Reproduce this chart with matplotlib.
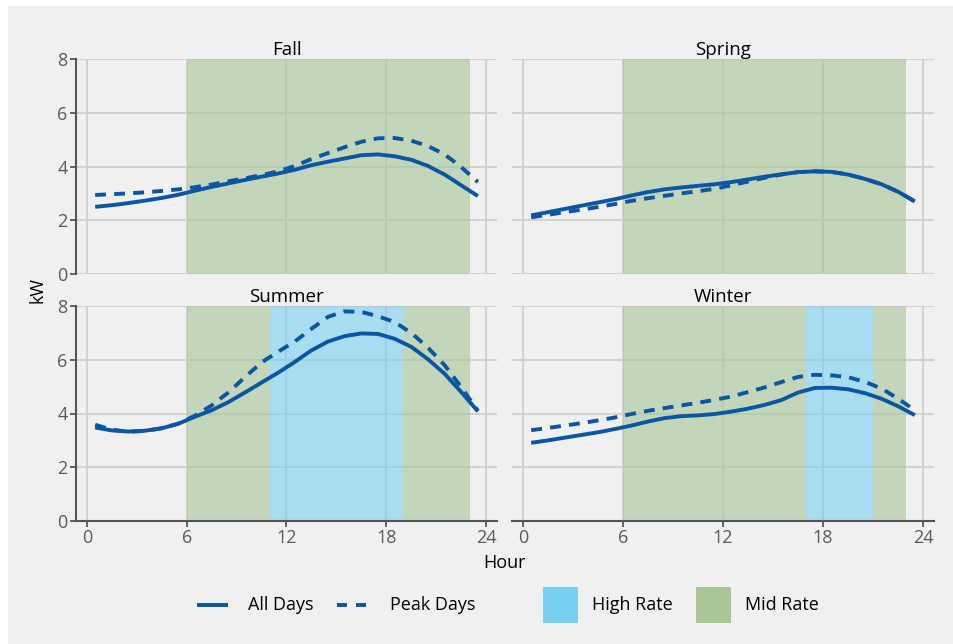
import matplotlib
matplotlib.use("Agg")
import matplotlib.pyplot as plt
from matplotlib.patches import Rectangle
from matplotlib.lines import Line2D

plt.rcParams['font.family'] = ['Open Sans', 'DejaVu Sans']

# ---- data -------------------------------------------------------------
hours = [h + 0.5 for h in range(24)]

fall_all = [2.50, 2.56, 2.64, 2.73, 2.83, 2.95, 3.10, 3.24, 3.37, 3.50, 3.62, 3.74,
            3.88, 4.05, 4.18, 4.30, 4.42, 4.45, 4.38, 4.25, 4.02, 3.70, 3.30, 2.90]
fall_peak = [2.94, 2.97, 3.00, 3.04, 3.09, 3.15, 3.23, 3.33, 3.45, 3.56, 3.68, 3.82,
             4.02, 4.28, 4.50, 4.72, 4.92, 5.05, 5.06, 4.96, 4.76, 4.45, 3.98, 3.42]

spring_all = [2.18, 2.30, 2.42, 2.54, 2.66, 2.78, 2.92, 3.05, 3.15, 3.22, 3.28, 3.34,
              3.42, 3.52, 3.62, 3.71, 3.79, 3.82, 3.80, 3.70, 3.54, 3.34, 3.06, 2.70]
spring_peak = [2.11, 2.20, 2.30, 2.39, 2.49, 2.60, 2.72, 2.82, 2.91, 3.00, 3.08, 3.17,
               3.30, 3.44, 3.58, 3.70, 3.79, 3.82, 3.80, 3.70, 3.54, 3.34, 3.06, 2.70]

summer_all = [3.48, 3.37, 3.33, 3.36, 3.45, 3.62, 3.88, 4.12, 4.42, 4.78, 5.15, 5.52,
              5.92, 6.35, 6.68, 6.88, 6.98, 6.96, 6.78, 6.48, 6.02, 5.48, 4.80, 4.08]
summer_peak = [3.58, 3.40, 3.32, 3.35, 3.45, 3.62, 3.92, 4.30, 4.78, 5.35, 5.90, 6.30,
               6.68, 7.15, 7.60, 7.80, 7.78, 7.62, 7.40, 7.00, 6.45, 5.80, 4.98, 4.10]

winter_all = [2.91, 3.00, 3.10, 3.20, 3.30, 3.42, 3.55, 3.70, 3.83, 3.90, 3.93, 3.98,
              4.07, 4.18, 4.32, 4.50, 4.78, 4.95, 4.96, 4.90, 4.76, 4.55, 4.27, 3.94]
winter_peak = [3.38, 3.46, 3.55, 3.64, 3.74, 3.85, 3.98, 4.10, 4.20, 4.30, 4.40, 4.51,
               4.63, 4.80, 4.97, 5.17, 5.36, 5.44, 5.42, 5.35, 5.18, 4.93, 4.55, 4.12]

seasons = ["Fall", "Spring", "Summer", "Winter"]
all_days = [fall_all, spring_all, summer_all, winter_all]
peak_days = [fall_peak, spring_peak, summer_peak, winter_peak]

# rate periods per season: (start hour, end hour, rate)
periods = {
    "Fall":   [(6, 23, "mid")],
    "Spring": [(6, 23, "mid")],
    "Summer": [(6, 11, "mid"), (11, 19, "high"), (19, 23, "mid")],
    "Winter": [(6, 17, "mid"), (17, 21, "high"), (21, 23, "mid")],
}

x_ticks = [0, 6, 12, 18, 24]
y_ticks = [0, 2, 4, 6, 8]

# ---- style ------------------------------------------------------------
LINE = "#0b56a4"
HIGH = "#78d0f0"
MID = "#a8c696"
BG = "#f0f0f0"
GRID = "#d3d3d3"
AXIS = "#555555"
TICKTXT = "#5a5a5a"

W, H = 954, 644
fig = plt.figure(figsize=(W / 100, H / 100), dpi=100, facecolor="white")
fig.patches.append(Rectangle((8 / W, 0), 1 - 8 / W, 1 - 6 / H, transform=fig.transFigure,
                             facecolor=BG, edgecolor="none", zorder=-10))


def px_axes(left, top, right, bottom):
    return fig.add_axes([left / W, 1 - bottom / H, (right - left) / W, (bottom - top) / H])


boxes = [(76, 59, 497, 274), (512, 59, 934, 274),
         (76, 306, 497, 521), (512, 306, 934, 521)]

for i, (season, box) in enumerate(zip(seasons, boxes)):
    ax = px_axes(*box)
    ax.set_facecolor(BG)
    ax.set_xlim(-0.65, 24.65)
    ax.set_ylim(0, 8)
    ax.set_xticks(x_ticks)
    ax.set_yticks(y_ticks)
    ax.grid(True, color=GRID, linewidth=1.4, zorder=0)
    ax.set_axisbelow(True)

    for start, end, rate in periods[season]:
        ax.axvspan(start, end, facecolor=HIGH if rate == "high" else MID,
                   alpha=0.6, edgecolor="none", zorder=1)

    ax.plot(hours, all_days[i], color=LINE, linewidth=2.8, solid_capstyle="butt", zorder=3)
    ax.plot(hours, peak_days[i], color=LINE, linewidth=2.8, linestyle=(0, (2.8, 2.1)),
            dash_capstyle="butt", zorder=3)

    ax.set_title(season, fontsize=13.5, color="black", pad=-1)

    for s in ax.spines.values():
        s.set_visible(False)
    left_col = i % 2 == 0
    bottom_row = i >= 2
    ax.spines["left"].set_visible(left_col)
    ax.spines["bottom"].set_visible(bottom_row)
    for s in ("left", "bottom"):
        ax.spines[s].set_color(AXIS)
        ax.spines[s].set_linewidth(1.5)

    ax.tick_params(axis="y", left=left_col, labelleft=left_col, length=4, width=1.3,
                   color=AXIS, labelcolor=TICKTXT, labelsize=13, pad=2)
    ax.tick_params(axis="x", bottom=bottom_row, labelbottom=bottom_row, length=4, width=1.3,
                   color=AXIS, labelcolor=TICKTXT, labelsize=13, pad=2)

fig.text(37 / W, 1 - 290 / H, "kW", rotation=90, fontsize=13, ha="center", va="center")
fig.text(505 / W, 1 - 563 / H, "Hour", fontsize=13, ha="center", va="center")

# ---- legend -----------------------------------------------------------
ly = 1 - 605 / H
fig.add_artist(Line2D([197 / W, 228 / W], [ly, ly], color=LINE, linewidth=2.8,
                      solid_capstyle="butt"))
fig.text(248 / W, ly, "All Days", fontsize=13, va="center", ha="left")
# dashed key drawn as two short strokes
for x0, x1 in [(337, 347), (356, 366)]:
    fig.add_artist(Line2D([x0 / W, x1 / W], [ly, ly], color=LINE, linewidth=2.8,
                          solid_capstyle="butt"))
fig.text(390 / W, ly, "Peak Days", fontsize=13, va="center", ha="left")
fig.patches.append(Rectangle((543 / W, 1 - 623 / H), 35 / W, 36 / H, transform=fig.transFigure,
                             facecolor=HIGH, edgecolor="none"))
fig.text(592 / W, ly, "High Rate", fontsize=13, va="center", ha="left")
fig.patches.append(Rectangle((696 / W, 1 - 623 / H), 35 / W, 36 / H, transform=fig.transFigure,
                             facecolor=MID, edgecolor="none"))
fig.text(745 / W, ly, "Mid Rate", fontsize=13, va="center", ha="left")

fig.savefig("out.png", dpi=100, facecolor="white")
